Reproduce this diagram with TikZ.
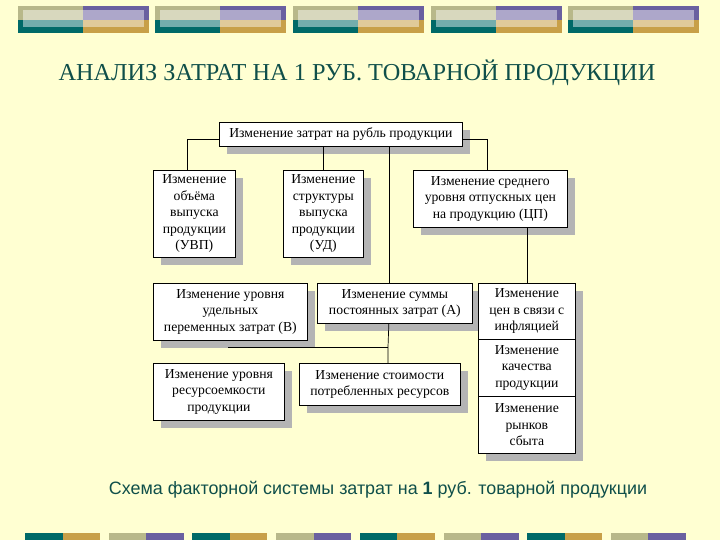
\documentclass[tikz,border=0pt]{standalone}
\usepackage{fontspec}
\setmainfont{Liberation Serif}
\newfontfamily\capfont{Liberation Sans}
\usepackage{tikz}
\usetikzlibrary{positioning,shadows,calc}
\definecolor{paper}{HTML}{FFFFD2}
\definecolor{tealbar}{HTML}{006A68}
\definecolor{goldbar}{HTML}{C8A048}
\definecolor{khakibar}{HTML}{B8B88A}
\definecolor{purplebar}{HTML}{6A60A0}
\definecolor{titleteal}{HTML}{0F4F4A}
\definecolor{shadowgray}{HTML}{B4B4B4}

\begin{document}
\begin{tikzpicture}[
    x=1pt, y=-1pt,
    every node/.style={font=\fontsize{13.7}{16.5}\selectfont},
    factorBox/.style={draw=black, line width=0.7pt, fill=white, align=center, inner sep=1pt, anchor=north west,
        copy shadow={shadow xshift=8pt, shadow yshift=-8pt, draw=none, fill=shadowgray}},
    linkLine/.style={line width=0.7pt, draw=black},
    titleStyle/.style={font=\fontsize{24.3}{28}\selectfont, text=titleteal},
    captionStyle/.style={font=\capfont\fontsize{17.9}{21}\selectfont, text=titleteal}
]
    % Sfondo e cornice
    \fill[paper] (0,0) rectangle (720,540);
    \useasboundingbox (0,0) rectangle (720,540);

    % Barre decorative in alto
    \foreach \i in {0,...,4} {
        \pgfmathsetmacro{\xa}{17.5+137.7*\i}
        \fill[khakibar] (\xa,6) rectangle ++(65,14);
        \fill[purplebar] (\xa+65,6) rectangle ++(66,14);
        \fill[tealbar] (\xa,20) rectangle ++(65,13);
        \fill[goldbar] (\xa+65,20) rectangle ++(66,13);
        \fill[white, opacity=0.45] (\xa+5,10) rectangle ++(121,17);
    }

    % Barre decorative in basso
    \foreach \j in {0,2,4,6} {
        \pgfmathsetmacro{\xb}{25+83.7*\j}
        \fill[tealbar] (\xb,533) rectangle ++(37.5,7);
        \fill[goldbar] (\xb+37.5,533) rectangle ++(37.5,7);
    }
    \foreach \j in {1,3,5,7} {
        \pgfmathsetmacro{\xb}{25+83.7*\j}
        \fill[khakibar] (\xb,533) rectangle ++(37.5,7);
        \fill[purplebar] (\xb+37.5,533) rectangle ++(37.5,7);
    }

    % Titolo
    \node[titleStyle] (title) at (357,73) {АНАЛИЗ ЗАТРАТ НА 1 РУБ. ТОВАРНОЙ ПРОДУКЦИИ};

    % Blocco principale
    \node[factorBox, minimum width=243pt, minimum height=24pt] (top) at (219,122) {Изменение затрат на рубль продукции};

    % Fattori di primo livello
    \node[factorBox, minimum width=82pt, minimum height=87pt] (vbp) at (153,170) {Изменение\\объёма\\выпуска\\продукции\\(УВП)};
    \node[factorBox, minimum width=80pt, minimum height=87pt] (ud) at (283,170) {Изменение\\структуры\\выпуска\\продукции\\(УД)};
    \node[factorBox, minimum width=154pt, minimum height=57pt] (cp) at (413,170) {Изменение среднего\\уровня отпускных цен\\на продукцию (ЦП)};

    % Fattori di secondo livello
    \node[factorBox, minimum width=154pt, minimum height=57pt] (perem) at (153,283) {Изменение уровня\\удельных\\переменных затрат (В)};
    \node[factorBox, minimum width=155pt, minimum height=40pt] (sumA) at (317,283) {Изменение суммы\\постоянных затрат (А)};
    \node[factorBox, minimum width=97pt, minimum height=56pt] (infl) at (478,283) {Изменение\\цен в связи с\\инфляцией};
    \node[factorBox, minimum width=97pt, minimum height=57pt] (qual) at (478,339) {Изменение\\качества\\продукции};
    \node[factorBox, minimum width=97pt, minimum height=57pt] (market) at (478,396) {Изменение\\рынков\\сбыта};

    % Fattori di terzo livello
    \node[factorBox, minimum width=131pt, minimum height=57pt] (resEm) at (153,363) {Изменение уровня\\ресурсоемкости\\продукции};
    \node[factorBox, minimum width=161pt, minimum height=42pt] (resCost) at (299,363) {Изменение стоимости\\потребленных ресурсов};

    % Collegamenti
    \path ([xshift=48pt]top.south) coordinate (trunkTop);
    \path ([xshift=-6pt]sumA.south) coordinate (trunkLow);
    \coordinate (joint) at (388,347);
    \coordinate (jointL) at (228,347);

    \draw[linkLine] ([yshift=-5pt]top.west) -| ([xshift=-7pt]vbp.north);
    \draw[linkLine] (ud.north |- top.south) -- (ud.north);
    \draw[linkLine] (trunkTop) -- (trunkTop |- sumA.north);
    \draw[linkLine] ([yshift=-5pt]top.east) -| ([xshift=-3pt]cp.north);
    \draw[linkLine] (infl.north |- cp.south) -- (infl.north);
    \draw[linkLine] (trunkLow) -- (joint) -- (joint |- resCost.north);
    \draw[linkLine] (joint) -- (jointL);

    % Didascalia
    \node[captionStyle] (caption) at (378,490) {Схема факторной системы затрат на \textbf{1} руб. товарной продукции};
\end{tikzpicture}
\end{document}
